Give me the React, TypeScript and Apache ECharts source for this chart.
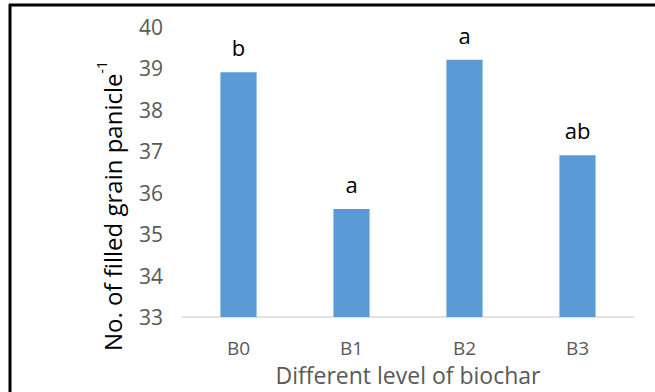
import React, { useEffect, useRef } from "react";
import * as echarts from "echarts";

const categories = ["B0", "B1", "B2", "B3"];
const values = [38.9, 35.6, 39.2, 36.9];
const letters = ["b", "a", "a", "ab"];
const yTicks = [33, 34, 35, 36, 37, 38, 39, 40];
const xTitle = "Different level of biochar";
const yTitle = "No. of filled grain panicle";

const FONT = "Open Sans";

export default function App() {
  const ref = useRef<HTMLDivElement>(null);
  useEffect(() => {
    document.body.style.margin = "0";
    const chart = echarts.init(ref.current!, null, { renderer: "svg" });
    chart.setOption({
      animation: false,
      backgroundColor: "#ffffff",
      grid: { left: 182, right: 21, top: 26.5, bottom: 75, containLabel: false },
      xAxis: {
        type: "category",
        data: categories,
        axisLine: { lineStyle: { color: "#d9d9d9", width: 1.5 } },
        axisTick: { show: false },
        axisLabel: { color: "#595959", fontSize: 19, lineHeight: 19, fontFamily: FONT, margin: 21 },
        name: xTitle,
        nameLocation: "middle",
        nameGap: 46,
        nameTextStyle: { color: "#595959", fontSize: 23, lineHeight: 23, fontFamily: FONT },
      },
      yAxis: {
        type: "value",
        min: yTicks[0],
        max: yTicks[yTicks.length - 1],
        interval: 1,
        axisLine: { show: false },
        axisTick: { show: false },
        splitLine: { show: false },
        axisLabel: { color: "#595959", fontSize: 21, fontFamily: FONT, margin: 19 },
      },
      series: [
        {
          type: "bar",
          data: values.map((v, i) => ({ value: v, label: { formatter: letters[i] } })),
          barWidth: "32%",
          itemStyle: { color: "#5b9bd5" },
          label: {
            show: true,
            position: "top",
            distance: 14,
            color: "#000000",
            fontSize: 22,
            fontFamily: FONT,
          },
        },
      ],
      graphic: [
        { type: "line", shape: { x1: 9, y1: 5, x2: 655, y2: 5 }, style: { stroke: "#000", lineWidth: 3 } },
        { type: "line", shape: { x1: 10, y1: 4, x2: 10, y2: 392 }, style: { stroke: "#000", lineWidth: 3 } },
        {
          type: "text",
          x: 109,
          y: 206,
          rotation: Math.PI / 2,
          style: {
            text: "{m|" + yTitle + "}{s|-1}",
            align: "center",
            verticalAlign: "middle",
            fontFamily: FONT,
            rich: {
              m: { fontSize: 24, color: "#595959", fontFamily: FONT, lineHeight: 30, verticalAlign: "bottom" },
              s: { fontSize: 14, color: "#595959", fontFamily: FONT, lineHeight: 30, verticalAlign: "top" },
            },
          },
        },
      ],
    });
    return () => chart.dispose();
  }, []);
  return <div ref={ref} style={{ width: 655, height: 392 }} />;
}
